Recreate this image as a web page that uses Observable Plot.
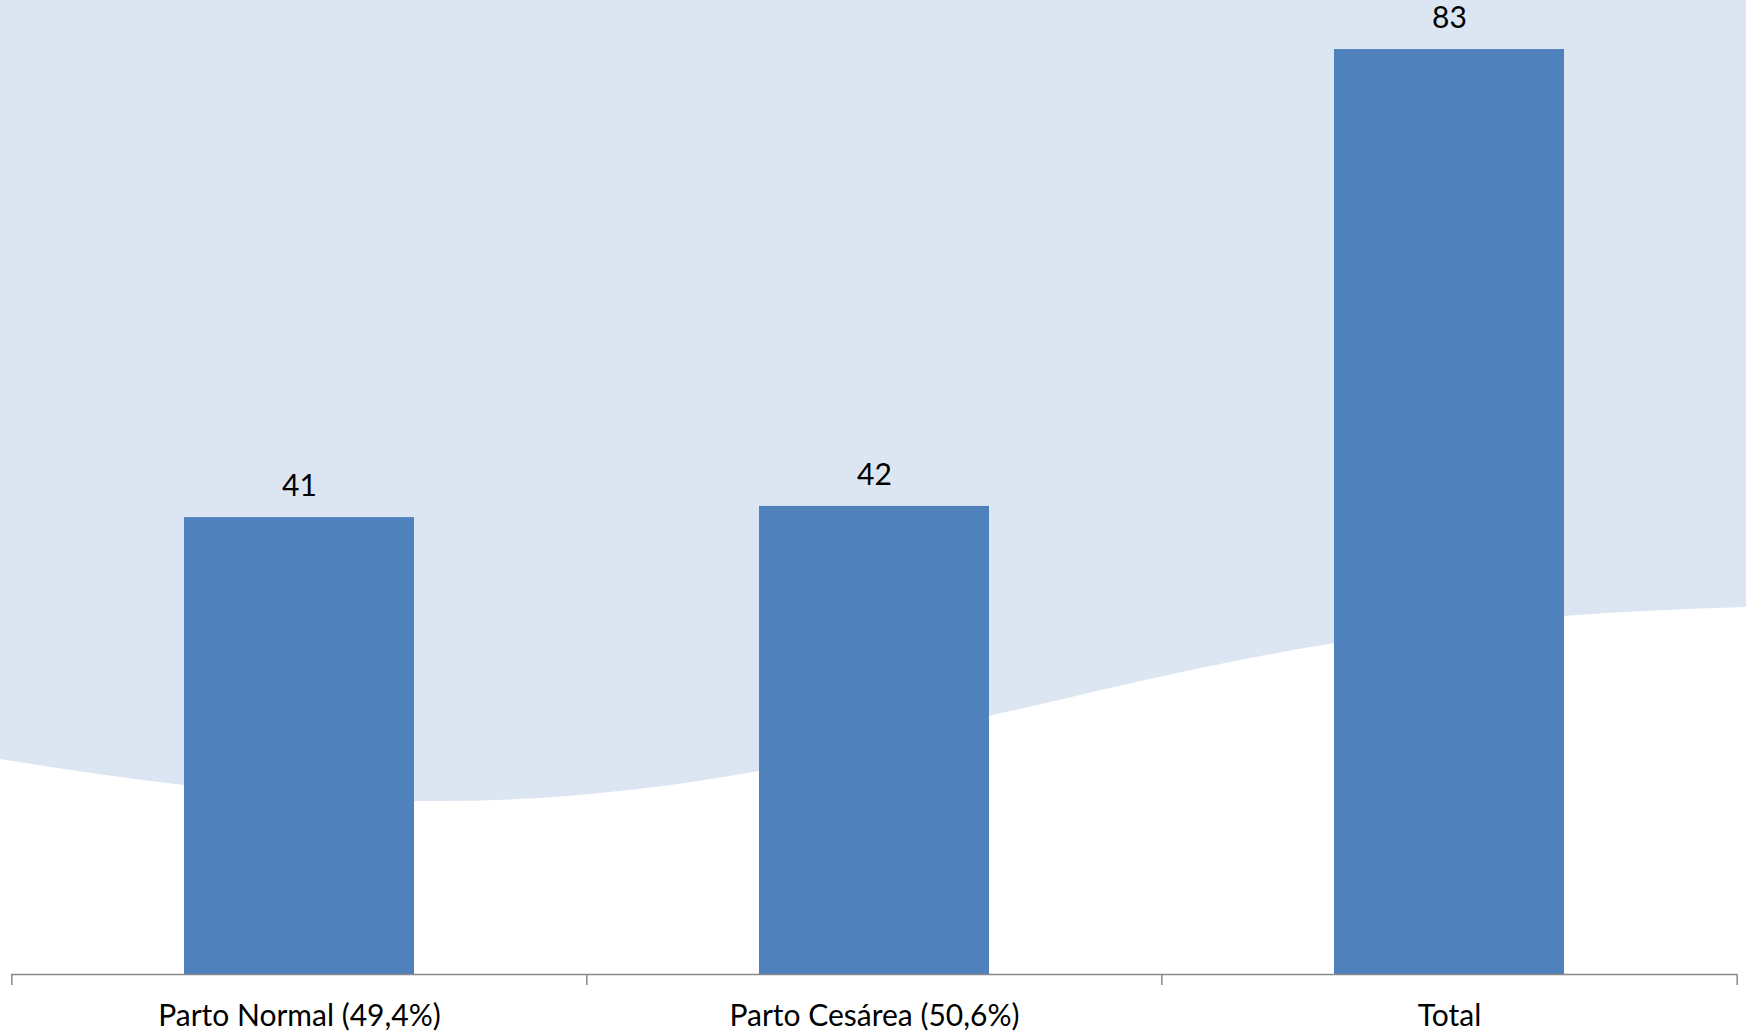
<!DOCTYPE html>
<html><head><meta charset="utf-8">
<script src="https://cdn.jsdelivr.net/npm/d3@7"></script>
<script src="https://cdn.jsdelivr.net/npm/@observablehq/plot@0.6"></script>
<style>
html,body{margin:0;padding:0;background:#fff;overflow:hidden}
#chart{position:relative;width:1746px;height:1035px}
#bg{position:absolute;left:0;top:0}
#plot{position:absolute;left:0;top:0}
</style></head><body>
<div id="chart"><svg id="bg" width="1746" height="1035"></svg><div id="plot"></div></div>
<script>
const categories = ["Parto Normal (49,4%)", "Parto Cesárea (50,6%)", "Total"];
const values = [41, 42, 83];
const data = categories.map((c, i) => ({category: c, value: values[i]}));

const W = 1746, H = 1035, mL = 11, mR = 9, mB = 61, mT = 0;

// decorative background wave (chart style), pixel geometry
const wave = [[0,759],[184,785],[440,801],[759,771],[989,716],[1335,643],[1564,616],[1746,607]];
const area = d3.area().x(d => d[0]).y0(0).y1(d => d[1]).curve(d3.curveMonotoneX);
d3.select("#bg").append("path").attr("d", area(wave)).attr("fill", "#DCE6F2");

const pi = 0.6, po = 0.3;
const step = (W - mL - mR) / (categories.length - pi + 2 * po);
const axisColor = "#898989";
const fs = 30;

const plot = Plot.plot({
  width: W, height: H,
  marginLeft: mL, marginRight: mR, marginTop: mT, marginBottom: mB,
  style: {background: "transparent", fontFamily: "Lato, 'Open Sans', sans-serif", fontSize: fs + "px", color: "#000", overflow: "visible"},
  x: {domain: categories, paddingInner: pi, paddingOuter: po, label: null},
  y: {domain: [0, 87.4], axis: null},
  marks: [
    Plot.barY(data, {x: "category", y: "value", fill: "#4F81BD"}),
    Plot.ruleY([0], {stroke: axisColor, strokeWidth: 1.5}),
    Plot.ruleX(categories, {x: d => d, y1: 0, y2: 0, dx: -step / 2, insetBottom: -11, stroke: axisColor, strokeWidth: 1.5}),
    Plot.ruleX(categories.slice(-1), {x: d => d, y1: 0, y2: 0, dx: step / 2, insetBottom: -11, stroke: axisColor, strokeWidth: 1.5}),
    Plot.text(data, {x: "category", y: "value", text: d => String(d.value), dy: -31, fill: "#000", fontSize: fs}),
    Plot.axisX({tickSize: 0, tickPadding: 30, fontSize: fs, fill: "#000", label: null})
  ]
});
document.getElementById("plot").appendChild(plot);
</script>
</body></html>
